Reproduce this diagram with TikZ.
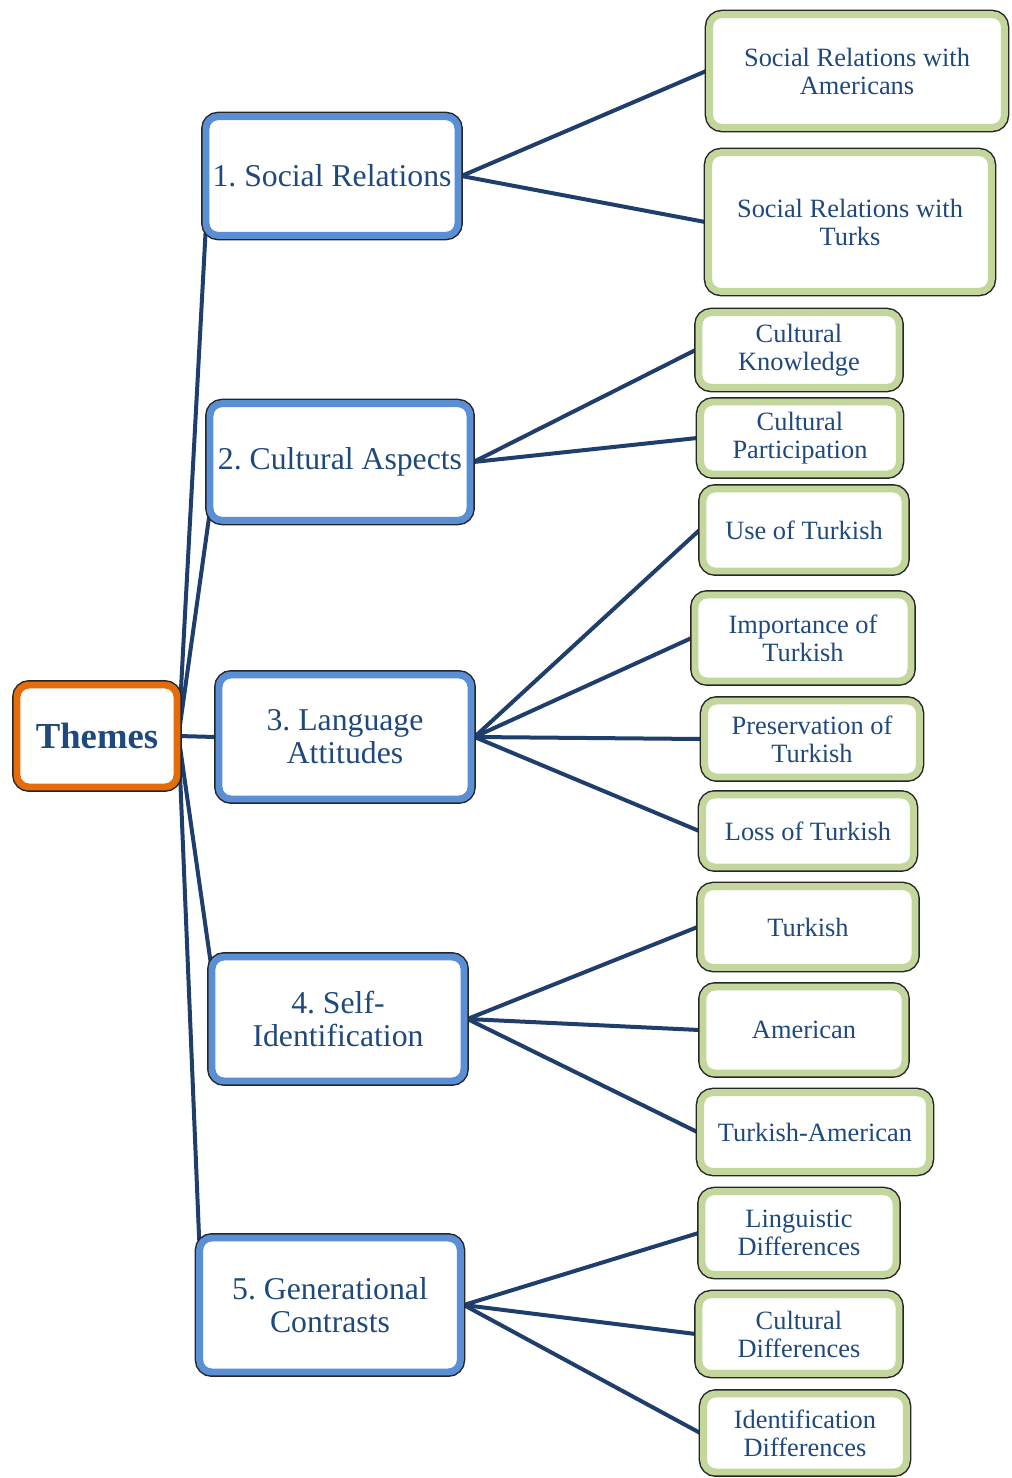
\documentclass[tikz,border=0pt]{standalone}
\usepackage{fontspec}
\setmainfont{Liberation Serif}
\usetikzlibrary{shadows,calc}
\frenchspacing
\pgfdeclarelayer{bg}
\pgfsetlayers{bg,main}
\definecolor{txt}{HTML}{1F497D}
\definecolor{bandblue}{HTML}{5A8FD6}
\definecolor{bandgreen}{HTML}{C3D69B}
\definecolor{bandorange}{HTML}{E46C0A}
\definecolor{conn}{HTML}{1F3E6C}
\tikzset{
  basebox/.style={rounded corners=9pt, inner sep=0pt, align=center, text=txt,
    drop shadow={shadow xshift=1.8pt, shadow yshift=-1.8pt, opacity=0.35, fill=black!60},
    preaction={draw=black!85, line width=7.4pt},
    fill=white, line width=5.2pt},
  bluebox/.style={basebox, draw=bandblue, font=\fontsize{23.8}{24.8}\selectfont},
  greenbox/.style={basebox, draw=bandgreen, font=\fontsize{19.8}{21}\selectfont},
  orangebox/.style={basebox, draw=bandorange, font=\fontsize{27.5}{29}\selectfont\bfseries},
  link/.style={draw=conn, line width=3pt}
}
\begin{document}
\begin{tikzpicture}[x=0.75pt,y=-0.75pt]
\useasboundingbox (0,0) rectangle (1011,1478);
% main
\node[orangebox, minimum width=120pt, minimum height=76.5pt] (th) at (97,736) {Themes};
\node[bluebox, minimum width=189pt, minimum height=89pt] (b1) at (332,176) {1. Social Relations};
\node[bluebox, minimum width=195pt, minimum height=87.5pt] (b2) at (340,462) {2. Cultural Aspects};
\node[bluebox, minimum width=189pt, minimum height=93pt] (b3) at (345,737) {3. Language\\Attitudes};
\node[bluebox, minimum width=189pt, minimum height=93pt] (b4) at (338,1019) {4. Self-\\Identification};
\node[bluebox, minimum width=195.5pt, minimum height=100.5pt] (b5) at (330,1305) {5. Generational\\Contrasts};
% green
\node[greenbox, minimum width=221pt, minimum height=84.5pt] (g1) at (857,71) {Social Relations with\\Americans};
\node[greenbox, minimum width=212pt, minimum height=104pt] (g2) at (850,222) {Social Relations with\\Turks};
\node[greenbox, minimum width=150pt, minimum height=56pt] (g3) at (799,350) {Cultural\\Knowledge};
\node[greenbox, minimum width=149pt, minimum height=54pt] (g4) at (800,438) {Cultural\\Participation};
\node[greenbox, minimum width=151.5pt, minimum height=61.5pt] (g5) at (804,530) {Use of Turkish};
\node[greenbox, minimum width=162pt, minimum height=64.5pt] (g6) at (803,638) {Importance of\\Turkish};
\node[greenbox, minimum width=161pt, minimum height=57pt] (g7) at (812,739) {Preservation of\\Turkish};
\node[greenbox, minimum width=158pt, minimum height=54pt] (g8) at (808,831) {Loss of Turkish};
\node[greenbox, minimum width=160.5pt, minimum height=60.5pt] (g9) at (808,927) {Turkish};
\node[greenbox, minimum width=151.5pt, minimum height=64.5pt] (g10) at (804,1030) {American};
\node[greenbox, minimum width=171.5pt, minimum height=59pt] (g11) at (815,1132) {Turkish-American};
\node[greenbox, minimum width=145.5pt, minimum height=62pt] (g12) at (799,1233) {Linguistic\\Differences};
\node[greenbox, minimum width=150pt, minimum height=59pt] (g13) at (799,1334) {Cultural\\Differences};
\node[greenbox, minimum width=152pt, minimum height=58.5pt] (g14) at (805,1433) {Identification\\Differences};
\begin{pgfonlayer}{bg}
\draw[link] ($(th.east)+(-2,0)$) -- ($(b1.south west)+(3,-6)$);
\draw[link] ($(th.east)+(-2,0)$) -- ($(b2.south west)+(3,-10)$);
\draw[link] ($(th.east)+(-2,0)$) -- (b3.west);
\draw[link] ($(th.east)+(-2,0)$) -- ($(b4.north west)+(2,8)$);
\draw[link] ($(th.east)+(-2,0)$) -- ($(b5.north west)+(3,6)$);
\draw[link] (b1.east) -- (g1.west);
\draw[link] (b1.east) -- (g2.west);
\draw[link] (b2.east) -- (g3.west);
\draw[link] (b2.east) -- (g4.west);
\draw[link] (b3.east) -- (g5.west);
\draw[link] (b3.east) -- (g6.west);
\draw[link] (b3.east) -- (g7.west);
\draw[link] (b3.east) -- (g8.west);
\draw[link] (b4.east) -- (g9.west);
\draw[link] (b4.east) -- (g10.west);
\draw[link] (b4.east) -- (g11.west);
\draw[link] (b5.east) -- (g12.west);
\draw[link] (b5.east) -- (g13.west);
\draw[link] (b5.east) -- (g14.west);
\end{pgfonlayer}
\end{tikzpicture}
\end{document}
